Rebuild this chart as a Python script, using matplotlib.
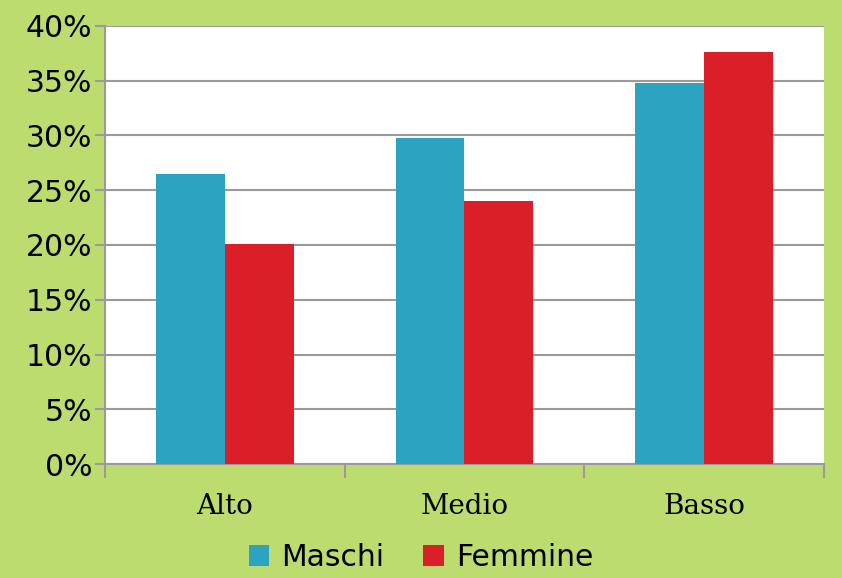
import matplotlib
matplotlib.use("Agg")
import matplotlib.pyplot as plt
from matplotlib.ticker import FixedLocator, NullFormatter
import numpy as np

categories = ["Alto", "Medio", "Basso"]
series_names = ["Maschi", "Femmine"]
maschi = [26.5, 29.8, 34.8]
femmine = [20.1, 24.0, 37.6]
y_ticks = [0, 5, 10, 15, 20, 25, 30, 35, 40]

BG = "#bddc70"
BLUE = "#2ca3c1"
RED = "#da1f29"
GRID = "#9a9a9a"

fig = plt.figure(figsize=(8.42, 5.78), dpi=100, facecolor=BG)
ax = fig.add_axes([105/842, 1-464/578, 719/842, 438/578])
ax.set_facecolor("white")

x = np.arange(len(categories))
w = 0.2875
ax.bar(x - w/2, maschi, w, color=BLUE, label=series_names[0], zorder=3)
ax.bar(x + w/2, femmine, w, color=RED, label=series_names[1], zorder=3)

ax.set_xlim(-0.5, len(categories) - 0.5)
ax.set_ylim(0, 40)

# y axis: percent labels, horizontal grid
ax.set_yticks(y_ticks)
ax.set_yticklabels([f"{t}%" for t in y_ticks], fontsize=21.5, family="DejaVu Sans")
ax.yaxis.grid(True, color=GRID, linewidth=1.5, zorder=0)
ax.tick_params(axis="y", direction="out", length=7, width=1.5, color=GRID, pad=2)

# x axis: ticks between groups, labels at group centres
ax.xaxis.set_major_locator(FixedLocator(np.arange(len(categories) + 1) - 0.5))
ax.xaxis.set_major_formatter(NullFormatter())
ax.xaxis.set_minor_locator(FixedLocator(x))
ax.set_xticklabels(categories, minor=True, fontsize=20, family="DejaVu Serif")
ax.tick_params(axis="x", which="major", direction="out", length=10, width=1.5, color=GRID)
ax.tick_params(axis="x", which="minor", length=0, pad=21)

for side in ("top", "right"):
    ax.spines[side].set_visible(False)
for side in ("left", "bottom"):
    ax.spines[side].set_color(GRID)
    ax.spines[side].set_linewidth(1.5)

fig.legend(loc="center", bbox_to_anchor=(0.5, 1-557/578), ncol=2, frameon=False,
           prop={"size": 21.5, "family": "DejaVu Sans"},
           handlelength=0.7, handleheight=0.7, handletextpad=0.4,
           columnspacing=1.3, borderaxespad=0)

fig.savefig("out.png", dpi=100, facecolor=BG)
